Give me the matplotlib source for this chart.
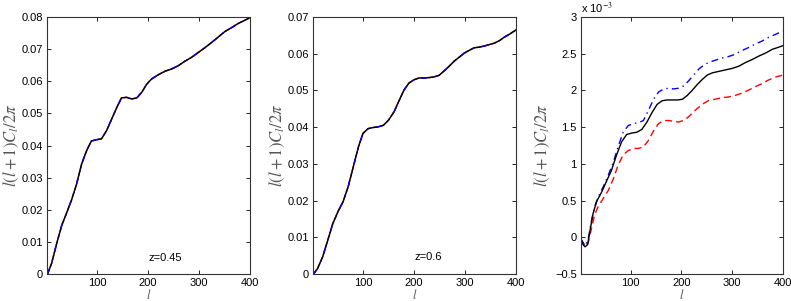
import matplotlib
matplotlib.use('Agg')
import matplotlib.pyplot as plt
from matplotlib.ticker import FuncFormatter

# panel 1, z=0.45 (all three curves coincide)
l1 = [3, 11, 21, 31, 40, 50, 60, 70, 80, 89, 99, 109, 119, 129, 139, 148, 158,
      168, 178, 188, 197, 207, 220, 233, 246, 259, 272, 285, 299, 312, 325,
      338, 351, 364, 377, 390, 400]
cl1 = [0.0, 0.0033, 0.0095, 0.0152, 0.0188, 0.023, 0.028, 0.0343, 0.0385,
       0.0414, 0.0418, 0.0421, 0.0447, 0.0483, 0.0519, 0.0548, 0.055, 0.0545,
       0.0548, 0.0566, 0.059, 0.0607, 0.062, 0.0631, 0.0638, 0.0648, 0.0662,
       0.0674, 0.069, 0.0705, 0.0721, 0.0738, 0.0755, 0.0767, 0.078, 0.079,
       0.0798]

# panel 2, z=0.6
l2 = [3, 11, 21, 31, 41, 51, 61, 71, 81, 91, 100, 110, 120, 130, 140, 150, 161,
      171, 180, 190, 200, 210, 220, 230, 240, 249, 259, 269, 279, 289, 299,
      308, 318, 328, 338, 348, 358, 368, 377, 387, 397, 400]
cl2 = [0.0, 0.0015, 0.0047, 0.0092, 0.0138, 0.017, 0.0197, 0.0238, 0.0292,
       0.0346, 0.0383, 0.0396, 0.0399, 0.0401, 0.0405, 0.0419, 0.0442, 0.0473,
       0.05, 0.052, 0.0529, 0.0534, 0.0534, 0.0535, 0.0537, 0.0541, 0.0553,
       0.0566, 0.058, 0.0591, 0.0602, 0.0609, 0.0616, 0.0618, 0.0621, 0.0625,
       0.0629, 0.0636, 0.0645, 0.0653, 0.0662, 0.0665]

# panel 3, values in units of 1e-3
l3_black = [2, 6, 10, 15, 20, 26, 33, 43, 52, 62, 72, 82, 92, 102, 112, 122,
            132, 142, 152, 162, 172, 182, 192, 202, 211, 221, 231, 241, 251,
            261, 274, 287, 300, 313, 326, 339, 353, 366, 379, 392, 400]
cl3_black = [-0.03, -0.1, -0.13, -0.1, 0.1, 0.33, 0.49, 0.62, 0.76, 0.91,
             1.12, 1.3, 1.4, 1.42, 1.43, 1.47, 1.57, 1.7, 1.81, 1.86, 1.87,
             1.87, 1.87, 1.88, 1.93, 2.0, 2.08, 2.15, 2.21, 2.24, 2.26, 2.28,
             2.3, 2.33, 2.38, 2.42, 2.47, 2.51, 2.56, 2.59, 2.61]
l3 = [2, 10, 16, 23, 29, 36, 46, 56, 66, 75, 85, 95, 105, 115, 125, 135, 145,
      155, 165, 175, 184, 194, 204, 214, 224, 234, 243, 253, 266, 279, 292,
      305, 318, 331, 345, 358, 371, 384, 400]
cl3_blue = [-0.02, -0.12, -0.03, 0.24, 0.42, 0.55, 0.69, 0.85, 1.03, 1.23,
            1.43, 1.52, 1.55, 1.56, 1.59, 1.73, 1.88, 1.98, 2.02, 2.03, 2.02,
            2.03, 2.06, 2.13, 2.21, 2.29, 2.34, 2.38, 2.41, 2.44, 2.46, 2.49,
            2.54, 2.58, 2.63, 2.67, 2.72, 2.76, 2.81]
cl3_red = [-0.03, -0.13, -0.08, 0.13, 0.31, 0.42, 0.53, 0.64, 0.8, 0.98, 1.12,
           1.18, 1.21, 1.21, 1.23, 1.32, 1.45, 1.55, 1.59, 1.59, 1.58, 1.57,
           1.59, 1.64, 1.71, 1.77, 1.82, 1.86, 1.88, 1.9, 1.91, 1.93, 1.96,
           2.0, 2.05, 2.09, 2.14, 2.18, 2.21]

xticks = [100, 200, 300, 400]
yticks1 = [0, 0.01, 0.02, 0.03, 0.04, 0.05, 0.06, 0.07, 0.08]
yticks2 = [0, 0.01, 0.02, 0.03, 0.04, 0.05, 0.06, 0.07]
yticks3 = [-0.5, 0, 0.5, 1, 1.5, 2, 2.5, 3]

plt.rcParams['font.family'] = 'Liberation Sans'
plt.rcParams['mathtext.fontset'] = 'stix'
plt.rcParams['font.size'] = 8

fig = plt.figure(figsize=(7.91, 3.01), dpi=100)
W, H = 791.0, 301.0
boxes = [(47, 250, 17, 274), (313, 516, 17, 274), (581, 783, 17, 274)]
axes = [fig.add_axes([b[0] / W, (H - b[3]) / H, (b[1] - b[0]) / W, (b[3] - b[2]) / H])
        for b in boxes]

fmt = FuncFormatter(lambda v, p: ('%g' % v).replace('-', '\u2212'))
ylab = r'$l(l+1)C_l/2\pi$'
dashdot = (0, (5, 3, 1, 3))

for ax, l, cl in [(axes[0], l1, cl1), (axes[1], l2, cl2)]:
    ax.plot(l, cl, color='red', ls='--', lw=1.0)
    ax.plot(l, cl, color='black', ls='-', lw=1.1)
    ax.plot(l, cl, color='blue', ls=(0, (4, 6, 1, 6)), lw=1.0)

ax = axes[2]
ax.plot(l3, cl3_red, color='red', ls=(0, (5, 3)), lw=1.0)
ax.plot(l3, cl3_blue, color='blue', ls=dashdot, lw=1.0)
ax.plot(l3_black, cl3_black, color='black', ls='-', lw=1.0)

ylab_x = [-0.175, -0.177, -0.19]
for ax, yt, yx in zip(axes, [yticks1, yticks2, yticks3], ylab_x):
    ax.set_xlim(2, 400)
    ax.set_ylim(yt[0], yt[-1])
    ax.set_xticks(xticks)
    ax.set_yticks(yt)
    ax.yaxis.set_major_formatter(fmt)
    ax.tick_params(direction='in', top=True, right=True, length=3, width=0.6,
                   labelsize=8, pad=3)
    for s in ax.spines.values():
        s.set_linewidth(0.8)
        s.set_color('#333333')
    ax.set_ylabel(ylab, fontsize=12, color='#555555', va='center')
    ax.yaxis.set_label_coords(yx, 0.5)
    ax.set_xlabel('$l$', fontsize=9, color='#555555', va='center')
    ax.xaxis.set_label_coords(0.5, -0.082)

axes[0].text(233, 0.005, 'z=0.45', ha='center', va='center', fontsize=8)
axes[1].text(227, 0.0046, 'z=0.6', ha='center', va='center', fontsize=8)
axes[2].text(0.0, 1.005, r'x 10$^{-3}$', transform=axes[2].transAxes,
             ha='left', va='bottom', fontsize=8)

fig.savefig('out.png', dpi=100)
